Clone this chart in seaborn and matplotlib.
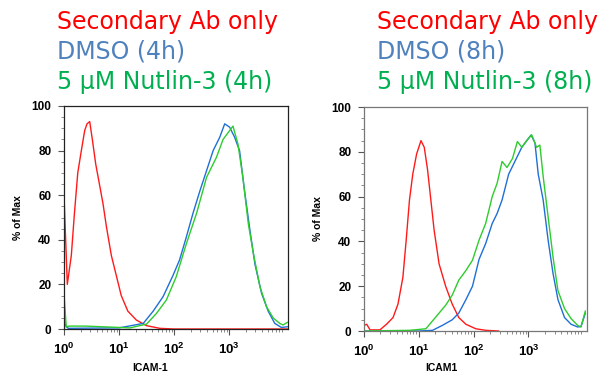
import numpy as np
import pandas as pd
import matplotlib
matplotlib.use("Agg")
import matplotlib.pyplot as plt
import seaborn as sns
from matplotlib.ticker import LogLocator, FixedLocator, FixedFormatter, NullFormatter

# ---------------- data (log10 of fluorescence, % of max) ----------------
# Panel A (4h)
a_red_x = [0.0, 0.0, 0.06, 0.133, 0.19, 0.25, 0.315, 0.376, 0.418, 0.467, 0.515, 0.576,
           0.636, 0.71, 0.77, 0.86, 0.95, 1.04, 1.16, 1.315, 1.5, 1.74, 2.0, 3.0, 4.07]
a_red_y = [100, 60, 20, 33, 52, 70, 80, 89, 92, 93, 85, 74,
           66, 56, 46, 33, 24, 15, 8, 4, 1.5, 0.3, 0, 0, 0]
a_blue_x = [0.0, 0.04, 0.08, 0.5, 1.0, 1.44, 1.62, 1.8, 1.98, 2.1, 2.22, 2.345, 2.47, 2.59,
            2.71, 2.83, 2.92, 3.01, 3.10, 3.19, 3.28, 3.38, 3.47, 3.59, 3.71, 3.83, 3.95, 4.06]
a_blue_y = [4, 1, 0.3, 0.4, 0.5, 2.5, 8, 14.5, 24, 31, 41, 52, 62, 71,
            80, 86, 92, 90.5, 86, 80, 62, 44, 29, 16, 8, 2.5, 0.7, 1]
a_green_x = [0.0, 0.04, 0.1, 0.4, 0.7, 1.2, 1.5, 1.68, 1.86, 2.04, 2.22, 2.41, 2.59, 2.77,
             2.89, 3.01, 3.07, 3.16, 3.25, 3.35, 3.44, 3.56, 3.68, 3.80, 3.92, 3.98, 4.06]
a_green_y = [16, 1, 1.3, 1.3, 1.0, 0.5, 2.2, 7, 13, 23.5, 38, 52, 68, 77,
             85, 89, 91, 83, 68, 47, 34, 19, 10, 5, 2.5, 1.8, 3]

# Panel B (8h)
b_red_x = [0.0, 0.05, 0.11, 0.29, 0.41, 0.53, 0.62, 0.71, 0.77, 0.83, 0.89, 0.96, 1.04, 1.10,
           1.16, 1.22, 1.28, 1.37, 1.49, 1.61, 1.73, 1.86, 2.04, 2.22, 2.46]
b_red_y = [2.5, 3, 0.5, 0.5, 3, 6, 12, 24, 40.6, 58.5, 70, 79, 85, 82,
           72, 58.5, 45, 30, 20, 12, 6, 3, 1, 0.3, 0]
b_blue_x = [0.0, 1.0, 1.25, 1.43, 1.61, 1.73, 1.86, 1.98, 2.10, 2.22, 2.34, 2.43, 2.52, 2.64,
            2.76, 2.88, 2.97, 3.05, 3.12, 3.18, 3.27, 3.36, 3.45, 3.54, 3.66, 3.78, 3.90, 3.96, 4.04]
b_blue_y = [0, 0, 0.3, 2.5, 5, 8, 14, 20, 32, 39, 48, 52.5, 58.5, 70,
            76, 82, 85, 87.5, 84, 70, 58.5, 40.6, 25.7, 14, 6, 3, 1.8, 2, 8]
b_green_x = [0.0, 0.83, 1.13, 1.37, 1.49, 1.61, 1.73, 1.86, 1.98, 2.10, 2.22, 2.34, 2.43, 2.52,
             2.61, 2.71, 2.80, 2.88, 2.97, 3.06, 3.15, 3.21, 3.27, 3.36, 3.45, 3.54, 3.66, 3.78,
             3.90, 3.96, 4.04]
b_green_y = [0, 0.3, 1, 8, 11.5, 16, 22.7, 27, 31.6, 40.6, 48, 60, 66, 75.7,
             73, 77, 84.6, 82, 85, 87.6, 82, 83, 69, 51, 33, 18, 10, 5.5,
             2.5, 1.8, 9]

legend_a = ["Secondary Ab only", "DMSO (4h)", "5 \u03bcM Nutlin-3 (4h)"]
legend_b = ["Secondary Ab only", "DMSO (8h)", "5 \u03bcM Nutlin-3 (8h)"]
xlabels = ["ICAM-1", "ICAM1"]
ylabel = "% of Max"
yticks = [0, 20, 40, 60, 80, 100]
xticks = [1, 10, 100, 1000]
xticklabels = [r"$\mathbf{10^{0}}$", r"$\mathbf{10^{1}}$", r"$\mathbf{10^{2}}$", r"$\mathbf{10^{3}}$"]

line_colors = ["#ff1a1a", "#1f6fd6", "#2ecc2e"]
text_colors = ["#ff0000", "#4f81bd", "#00b050"]

# ---------------- style ----------------
sns.set_style("ticks")
plt.rcParams["font.family"] = ["Liberation Sans", "DejaVu Sans"]
plt.rcParams["mathtext.fontset"] = "custom"
plt.rcParams["mathtext.rm"] = "Liberation Sans"
plt.rcParams["mathtext.bf"] = "Liberation Sans:bold"
plt.rcParams["mathtext.it"] = "Liberation Sans:italic"

fig = plt.figure(figsize=(5.99, 3.75), dpi=100)
ax_a = fig.add_axes([64 / 599, 1 - 329 / 375, 224 / 599, 223 / 375])
ax_b = fig.add_axes([364 / 599, 1 - 331 / 375, 223 / 599, 224 / 375])


def draw(ax, series, xlabel, xlab_pos, spine_color):
    for (xs, ys), c in zip(series, line_colors):
        df = pd.DataFrame({"x": np.power(10.0, np.array(xs)), "y": ys})
        sns.lineplot(data=df, x="x", y="y", ax=ax, color=c, lw=1.0,
                     estimator=None, sort=False)
    ax.set_xscale("log")
    ax.set_xlim(1, 10 ** 4.07)
    ax.set_ylim(0, 100)
    ax.xaxis.set_major_locator(FixedLocator(xticks))
    ax.xaxis.set_major_formatter(FixedFormatter(xticklabels))
    ax.xaxis.set_minor_locator(LogLocator(base=10, subs=np.arange(2, 10), numticks=20))
    ax.xaxis.set_minor_formatter(NullFormatter())
    ax.set_yticks(yticks)
    ax.set_yticks(np.arange(0, 101, 5), minor=True)
    ax.tick_params(axis="both", which="major", direction="out", length=4, width=0.8,
                   color="#555555", labelcolor="black")
    ax.tick_params(axis="both", which="minor", direction="out", length=2, width=0.6,
                   color="#777777")
    ax.tick_params(axis="y", labelsize=8.5, pad=5)
    ax.tick_params(axis="x", labelsize=9.5, pad=5)
    for lab in ax.get_yticklabels():
        lab.set_fontweight("bold")
    for s in ax.spines.values():
        s.set_visible(True)
        s.set_color(spine_color)
        s.set_linewidth(0.9)
    ax.set_xlabel(xlabel, fontsize=7.5, fontweight="bold", color="black")
    ax.set_ylabel(ylabel, fontsize=7.5, fontweight="bold", color="black")
    ax.xaxis.set_label_coords(xlab_pos[0], xlab_pos[1])
    ax.yaxis.set_label_coords(-0.205, 0.5)
    ax.xaxis.label.set_va("center")
    ax.yaxis.label.set_va("center")


draw(ax_a, [(a_red_x, a_red_y), (a_blue_x, a_blue_y), (a_green_x, a_green_y)],
     xlabels[0], (0.384, -0.175), "#222222")
draw(ax_b, [(b_red_x, b_red_y), (b_blue_x, b_blue_y), (b_green_x, b_green_y)],
     xlabels[1], (0.348, -0.165), "#777777")

for x0, labels in [(57 / 599, legend_a), (377 / 599, legend_b)]:
    for i, (t, c) in enumerate(zip(labels, text_colors)):
        fig.text(x0, 1 - (29 + 30 * i) / 375, t, color=c, fontsize=17,
                 family=["DejaVu Sans"], ha="left", va="baseline")

fig.savefig("out.png", dpi=100)
